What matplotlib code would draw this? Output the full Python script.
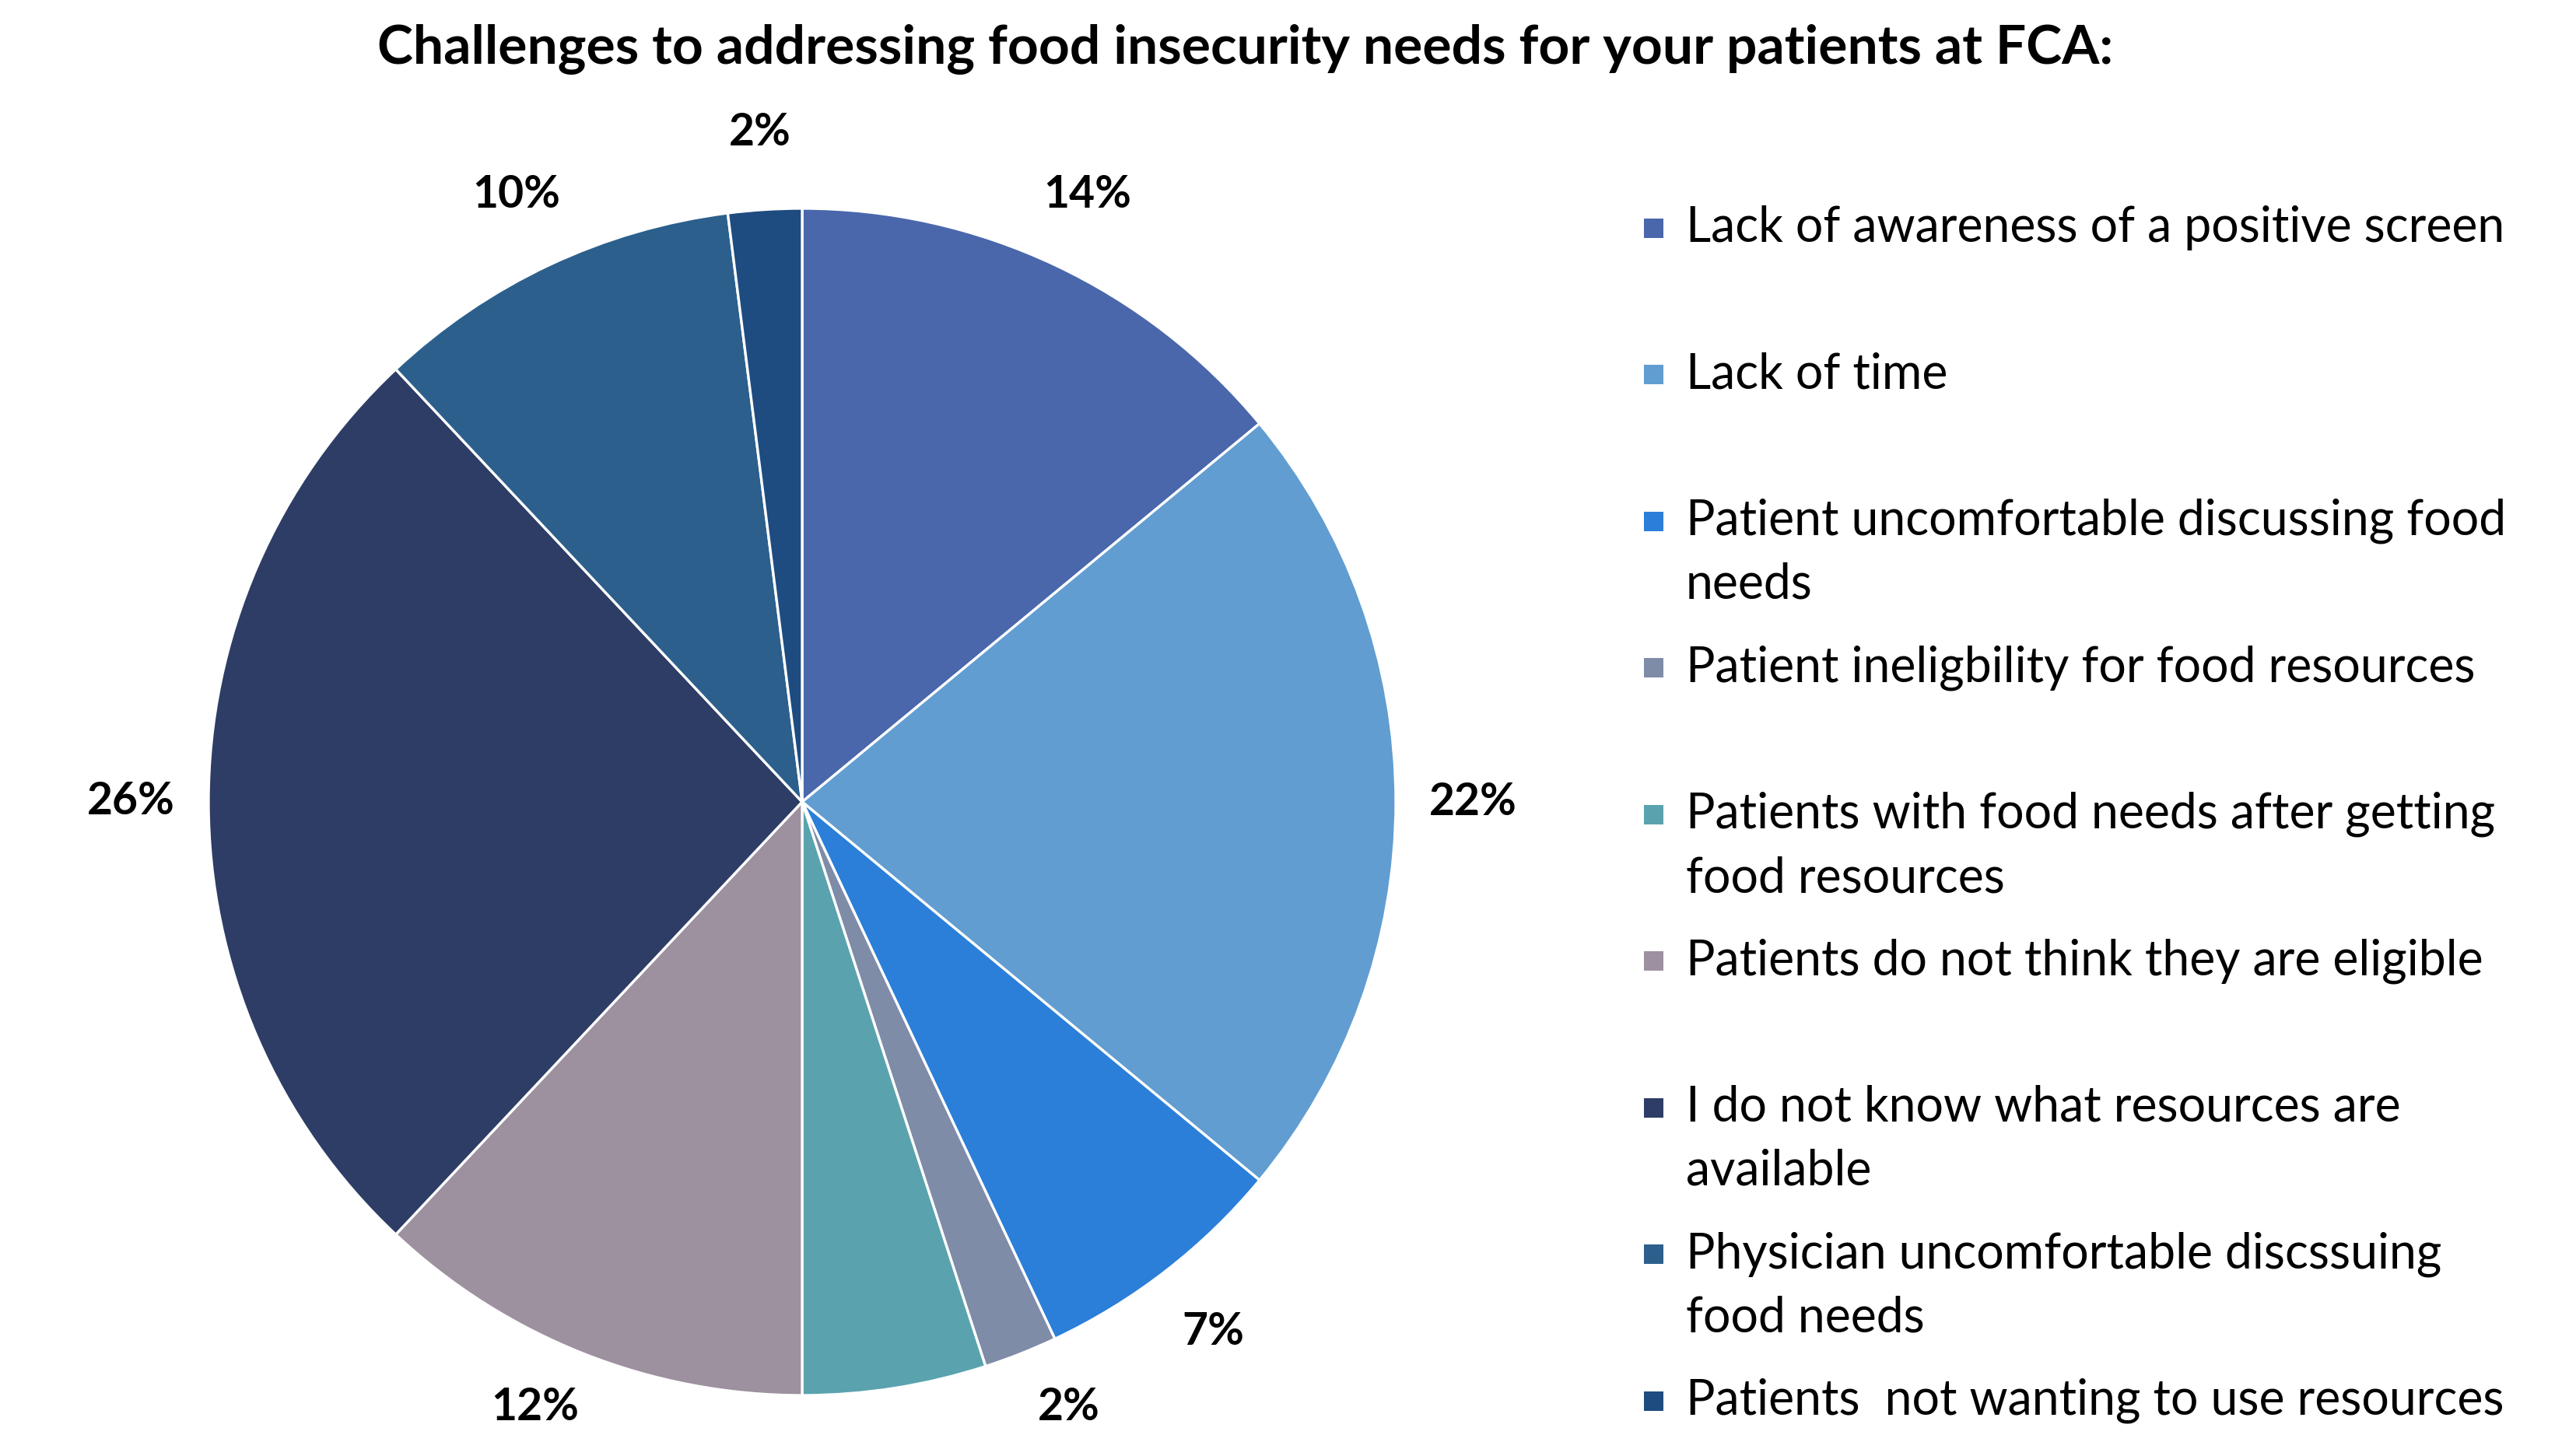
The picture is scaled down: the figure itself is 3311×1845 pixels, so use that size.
import matplotlib
matplotlib.use("Agg")
import matplotlib.pyplot as plt
from matplotlib.patches import Rectangle

plt.rcParams['font.family'] = ['Lato', 'DejaVu Sans']

title = "Challenges to addressing food insecurity needs for your patients at FCA:"
labels = [
    "Lack of awareness of a positive screen",
    "Lack of time",
    "Patient uncomfortable discussing food\nneeds",
    "Patient ineligbility for food resources",
    "Patients with food needs after getting\nfood resources",
    "Patients do not think they are eligible",
    "I do not know what resources are\navailable",
    "Physician uncomfortable discssuing\nfood needs",
    "Patients  not wanting to use resources",
]
values = [14, 22, 7, 2, 5, 12, 26, 10, 2]
colors = ["#4A67AC", "#619DD1", "#2B7FD8", "#7F8CA8", "#5AA3AE",
          "#9D909F", "#2E3D66", "#2C5F8C", "#1E4C80"]

W, H = 3312, 1845
fig = plt.figure(figsize=(W / 100, H / 100), dpi=100)
fig.patch.set_facecolor("white")

# pie axes: centre (1031, 1031) px from top-left, radius ~763 px
cx, cy, r = 1031, 1031, 763
ax = fig.add_axes([(cx - r) / W, (H - cy - r) / H, 2 * r / W, 2 * r / H])
wedges, texts, autotexts = ax.pie(
    values, colors=colors, startangle=90, counterclock=False,
    autopct='%d%%', pctdistance=1.13, radius=1,
    wedgeprops=dict(edgecolor="white", linewidth=2.4),
    textprops=dict(fontsize=41, fontweight="bold", color="black"))
ax.set_xlim(-1, 1)
ax.set_ylim(-1, 1)
ax.set_aspect("equal")
ax.axis("off")

# labels near the bottom edge are nudged up to stay on the canvas
# (the 5% one is left where it falls, as in the source image)
for t in autotexts:
    x, y = t.get_position()
    if -1.1 < y < -1.02:
        t.set_position((x * 1.08, -1.02))

fig.text(1601 / W, 1 - 63 / H, title, ha="center", va="center",
         fontsize=50, fontweight="bold")

# legend, Excel-style fixed row spacing
x_box = 2113 / W
x_txt = 2167 / W
y0 = 293
step = 188.5
line_h = 82
box = 25
for i, (lab, col) in enumerate(zip(labels, colors)):
    y = y0 + i * step
    fig.patches.append(Rectangle((x_box, 1 - (y + box / 2) / H), box / W, box / H,
                                 transform=fig.transFigure, facecolor=col,
                                 edgecolor="none"))
    for j, line in enumerate(lab.split("\n")):
        fig.text(x_txt, 1 - (y + j * line_h) / H, line, ha="left",
                 va="center", fontsize=45)

fig.savefig("out.png", dpi=100)
